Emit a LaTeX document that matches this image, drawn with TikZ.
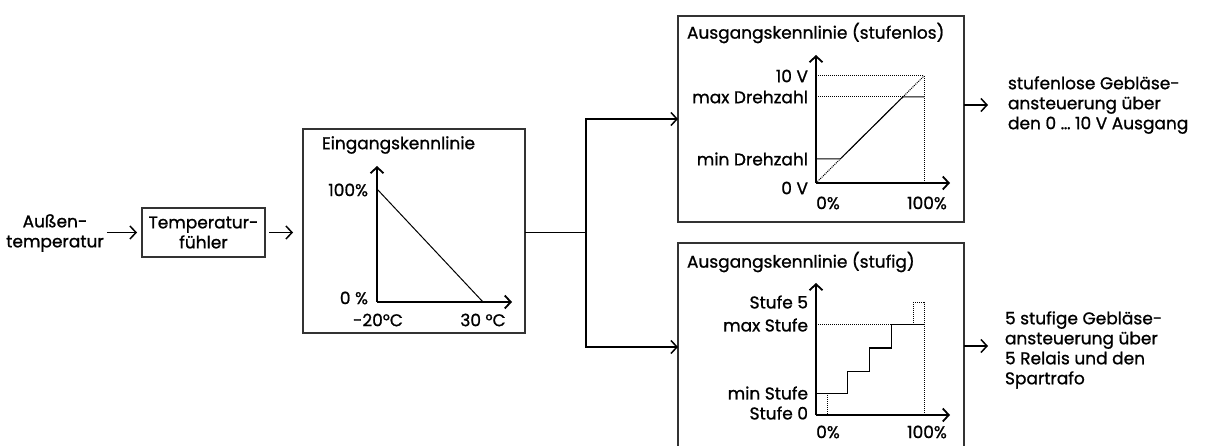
\documentclass[tikz,border=0pt]{standalone}
\usepackage{fontspec}
\setmainfont{Poppins}[FakeBold=1]
\usetikzlibrary{arrows.meta}
\begin{document}
\begin{tikzpicture}[x=1pt,y=-1pt,
  every node/.style={font=\fontsize{17}{20}\selectfont, inner sep=0pt, outer sep=0pt},
  box/.style={draw=black!80, line width=1.3pt},
  arr/.style={-{Straight Barb[length=6pt,width=13pt,line width=1.5pt]}, line width=1.1pt},
  axis/.style={-{Straight Barb[length=6pt,width=13pt,line width=1.8pt]}, line width=1.8pt},
  thin/.style={line width=1pt},
  dot/.style={line width=1pt, dash pattern=on 1pt off 1pt},
  lbl/.style={anchor=east},
  ttl/.style={anchor=west}
]
\useasboundingbox (0,0) rectangle (1221,446);

% input chain
\node[align=center] (aussen) at (55,233) {Außen-\\temperatur};
\node[box, minimum width=123pt, minimum height=49pt, align=center] (tf) at (203.5,232.5) {Temperatur-\\fühler};
\node[box, minimum width=222pt, minimum height=204pt, anchor=north west] (ein) at (303,129) {};
\node[box, minimum width=286pt, minimum height=206pt, anchor=north west] (top) at (678,16) {};
\node[box, minimum width=286pt, minimum height=215pt, anchor=north west] (bot) at (678,243) {};

\draw[arr, shorten <=3pt, shorten >=5pt] (aussen.east |- tf.west) -- (tf.west);
\draw[arr, shorten <=4pt, shorten >=10pt] (tf.east) -- (ein.west |- tf.east);

\coordinate (split) at (586,233);
\coordinate (ta) at (678,119);
\coordinate (ba) at (678,347);
\draw[thin] (ein.east |- split) -- (split);
\draw[arr] (split) |- (ta);
\draw[arr] (split) |- (ba);

% Eingangskennlinie
\node[ttl] (eint) at (322,145) {Eingangskennlinie};
\coordinate (eo) at (377,302);
\coordinate (ey) at (377,166);
\coordinate (ex) at (512,302);
\draw[axis] (eo) -- (ey);
\draw[axis] (eo) -- (ex);
\coordinate (e1) at (377,189);
\coordinate (e2) at (483,302);
\draw[thin] (e1) -- (e2);
\node[lbl] (e100) at (368,190) {100\%};
\node[lbl] (e0) at (368,298) {0 \%};
\node (em20) at (378,320) {-20°C};
\node (e30) at (483,320) {30 °C};

% Ausgangskennlinie stufenlos
\node[ttl] (topt) at (687,33) {Ausgangskennlinie (stufenlos)};
\coordinate (to) at (816,183);
\coordinate (ty) at (816,55);
\coordinate (tx) at (950,183);
\draw[axis] (to) -- (ty);
\draw[axis] (to) -- (tx);
\coordinate (t10) at (816,76);
\coordinate (tmax) at (816,97);
\coordinate (tmin) at (816,159);
\coordinate (tc) at (924,76);
\coordinate (tcb) at (924,183);
\coordinate (tmaxp) at (902.8,97);
\coordinate (tminp) at (840.2,159);
\coordinate (tmaxe) at (924,97);
\draw[dot] (t10) -- (tc) -- (tcb);
\draw[dot] (tmax) -- (tmaxp);
\draw[dot] (to) -- (tc);
\draw[thin] (tmin) -- (tminp) -- (tmaxp) -- (tmaxe);
\node[lbl] (l10) at (808,76) {10 V};
\node[lbl] (lmax) at (808,97) {max Drehzahl};
\node[lbl] (lmin) at (808,159) {min Drehzahl};
\node[lbl] (l0) at (808,188) {0 V};
\node (t0p) at (828,203) {0\%};
\node (t100p) at (927,203) {100\%};

% Ausgangskennlinie stufig
\node[ttl] (bott) at (687,262) {Ausgangskennlinie (stufig)};
\coordinate (bo) at (816,415);
\coordinate (by) at (816,283);
\coordinate (bx) at (950,415);
\draw[axis] (bo) -- (by);
\draw[axis] (bo) -- (bx);
\coordinate (bmin) at (816,393);
\coordinate (bmax) at (816,325);
\draw[thin] (bmin) -- (847,393) -- (847,371) -- (869,371) -- (869,348) -- (891,348) -- (891,325) -- (924,325);
\draw[dot] (bmax) -- (891,325);
\draw[dot] (913,325) -- (913,303) -- (924,303) -- (924,415);
\draw[dot] (827,393) -- (827,415);
\node[lbl] (s5) at (808,302) {Stufe 5};
\node[lbl] (smax) at (808,325) {max Stufe};
\node[lbl] (smin) at (808,393) {min Stufe};
\node[lbl] (s0) at (808,413) {Stufe 0};
\node (b0p) at (828,432) {0\%};
\node (b100p) at (927,432) {100\%};

% outputs
\node[anchor=west, align=left] (out1) at (1008,105) {stufenlose Gebläse-\\ansteuerung über\\den 0 … 10 V Ausgang};
\node[anchor=west, align=left] (out2) at (1005,350) {5 stufige Gebläse-\\ansteuerung über\\5 Relais und den\\Spartrafo};
\draw[arr] (top.east |- 0,105) -- (988,105);
\draw[arr] (bot.east |- 0,346) -- (988,346);
\end{tikzpicture}
\end{document}
